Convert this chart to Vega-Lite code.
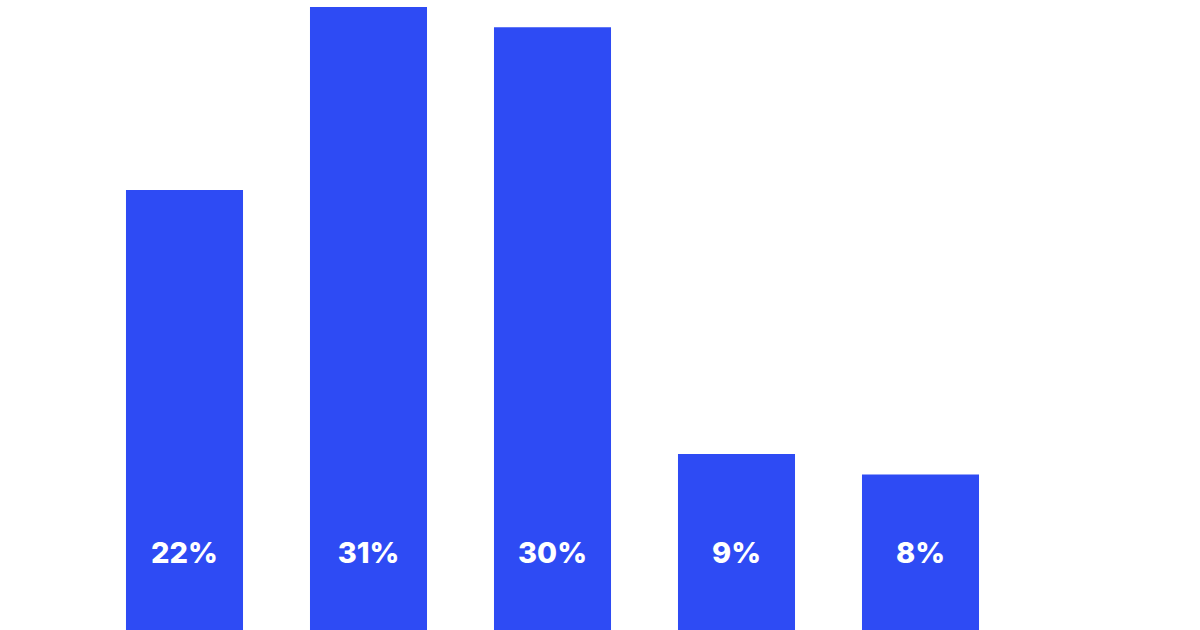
{
  "$schema": "https://vega.github.io/schema/vega-lite/v6.json",
  "autosize": {"type": "none"},
  "width": 920,
  "height": 623,
  "padding": {"left": 92.5, "top": 7, "right": 187.5, "bottom": 0},
  "background": "white",
  "data": {
    "values": [
      {"group": "A", "share": 0.22},
      {"group": "B", "share": 0.31},
      {"group": "C", "share": 0.30},
      {"group": "D", "share": 0.09},
      {"group": "E", "share": 0.08}
    ]
  },
  "encoding": {
    "x": {
      "field": "group",
      "type": "nominal",
      "sort": null,
      "scale": {"paddingInner": 0.364, "paddingOuter": 0.182},
      "axis": null
    }
  },
  "layer": [
    {
      "mark": {"type": "bar", "color": "#2e4bf4", "clip": true},
      "encoding": {
        "y": {
          "field": "share",
          "type": "quantitative",
          "scale": {"domain": [0.00344, 0.31], "zero": false, "nice": false},
          "axis": null
        },
        "y2": {"datum": 0}
      }
    },
    {
      "mark": {
        "type": "text",
        "color": "white",
        "font": "Inter",
        "fontWeight": 800,
        "fontSize": 29,
        "baseline": "middle",
        "align": "center"
      },
      "encoding": {
        "y": {"datum": 0.041, "type": "quantitative"},
        "text": {"field": "share", "type": "quantitative", "format": ".0%"}
      }
    }
  ],
  "config": {"view": {"stroke": null}}
}
